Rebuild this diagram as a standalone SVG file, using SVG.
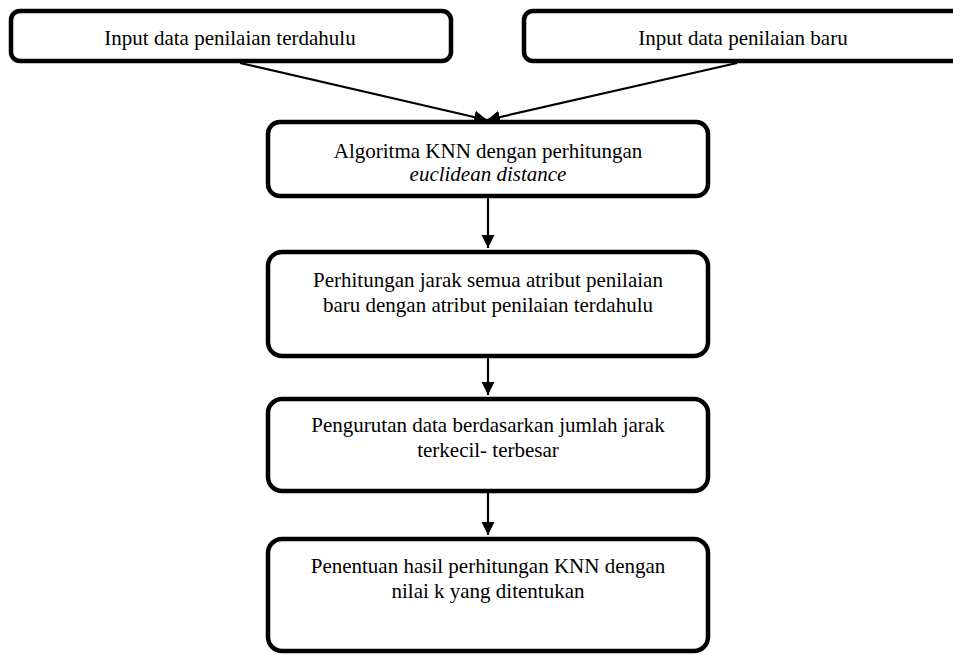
<svg xmlns="http://www.w3.org/2000/svg" width="953" height="655" viewBox="0 0 953 655">
<defs>
<style>
.box{fill:#fff;stroke:#000;stroke-width:4.5}
.t{font-family:"Liberation Serif","Times New Roman",serif;font-size:21px;fill:#000;text-anchor:middle}
.i{font-style:italic}
.c{stroke:#000;stroke-width:2.2;fill:none}
</style>
<marker id="ah" viewBox="0 0 10 10" refX="10" refY="5" markerWidth="13" markerHeight="17" markerUnits="userSpaceOnUse" orient="auto">
<path d="M0,0 L10,5 L0,10 z" fill="#000"/>
</marker>
</defs>
<rect width="953" height="655" fill="#fff"/>
<g id="connectors">
<line class="c" x1="240" y1="63" x2="487" y2="120" marker-end="url(#ah)"/>
<line class="c" x1="737" y1="63" x2="487" y2="120" marker-end="url(#ah)"/>
<line class="c" x1="488" y1="198" x2="488" y2="248" marker-end="url(#ah)"/>
<line class="c" x1="488" y1="358" x2="488" y2="395" marker-end="url(#ah)"/>
<line class="c" x1="488" y1="493" x2="488" y2="535" marker-end="url(#ah)"/>
</g>
<g id="n1">
<rect class="box" x="11" y="11" width="440" height="50" rx="9"/>
<text class="t" x="230" y="45">Input data penilaian terdahulu</text>
</g>
<g id="n2">
<rect class="box" x="524" y="11" width="440" height="50" rx="9"/>
<text class="t" x="743" y="45">Input data penilaian baru</text>
</g>
<g id="n3">
<rect class="box" x="268" y="122" width="440" height="74" rx="12"/>
<text class="t" x="488" y="158">Algoritma KNN dengan perhitungan</text>
<text class="t i" x="488" y="181">euclidean distance</text>
</g>
<g id="n4">
<rect class="box" x="268" y="252" width="440" height="104" rx="14"/>
<text class="t" x="488" y="287">Perhitungan jarak semua atribut penilaian</text>
<text class="t" x="488" y="312">baru dengan atribut penilaian terdahulu</text>
</g>
<g id="n5">
<rect class="box" x="268" y="399" width="440" height="92" rx="14"/>
<text class="t" x="488" y="432">Pengurutan data berdasarkan jumlah jarak</text>
<text class="t" x="488" y="457">terkecil- terbesar</text>
</g>
<g id="n6">
<rect class="box" x="268" y="539" width="440" height="112" rx="14"/>
<text class="t" x="488" y="573">Penentuan hasil perhitungan KNN dengan</text>
<text class="t" x="488" y="598">nilai k yang ditentukan</text>
</g>
</svg>
